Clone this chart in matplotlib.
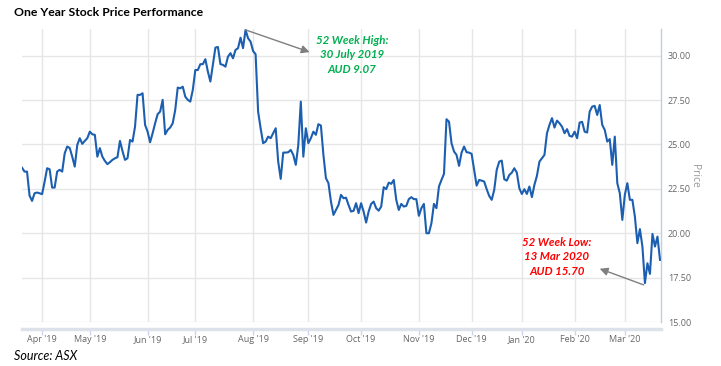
import numpy as np
import pandas as pd
import matplotlib
matplotlib.use("Agg")
from matplotlib import pyplot as plt

# daily closes, one list per month (trading days only)
mar19 = [23.69, 23.47, 23.47, 22.12, 21.82, 22.25, 22.29, 22.25]
apr19 = [22.20, 22.90, 23.66, 23.60, 22.57, 22.57, 23.47, 23.57, 23.47, 24.50,
         24.88, 24.80, 24.31, 23.75, 24.97, 25.35, 25.03, 25.20, 25.35]
may19 = [25.72, 25.57, 25.54, 24.31, 24.79, 24.31, 24.07, 23.89, 24.00, 24.13,
         24.22, 24.28, 25.20, 24.63, 24.13, 24.22, 25.25, 25.16, 26.00, 27.79,
         27.79, 27.88, 26.10]
jun19 = [25.72, 25.12, 25.63, 26.19, 26.70, 26.85, 27.51, 25.57, 25.82, 25.95,
         26.19, 26.94, 28.20, 28.16, 28.25, 27.69, 27.51, 27.41, 28.07]
jul19 = [29.19, 29.19, 29.52, 29.52, 29.80, 29.10, 28.54, 29.48, 30.45, 30.49,
         29.52, 29.48, 29.38, 29.94, 30.14, 29.85, 30.32, 30.42, 31.01, 30.42,
         31.45, 30.98, 30.79]
aug19 = [30.26, 30.08, 26.85, 25.91, 25.07, 25.16, 25.44, 25.35, 25.63, 25.91,
         24.03, 23.06, 24.54, 24.54, 24.56, 24.69, 24.41, 23.85, 24.97, 27.41,
         24.31, 25.91]
sep19 = [25.07, 25.35, 25.72, 25.54, 26.14, 26.06, 24.41, 23.10, 22.82, 21.78,
         21.03, 21.31, 21.59, 22.16, 21.97, 22.00, 21.59, 21.22, 21.26, 21.69,
         21.13]
oct19 = [21.69, 21.22, 20.60, 21.22, 21.65, 21.78, 21.41, 21.27, 21.50, 22.59,
         22.48, 22.85, 22.78, 23.00, 21.88, 21.31, 21.65, 21.50, 21.54, 21.92,
         22.03, 21.92, 21.92]
nov19 = [20.98, 21.41, 21.65, 20.00, 20.00, 20.56, 21.65, 21.41, 22.63, 23.00,
         23.34, 26.42, 26.28, 25.07, 24.60, 24.41, 23.79, 24.54, 24.88, 24.56,
         24.54]
dec19 = [24.47, 23.57, 22.68, 23.00, 22.96, 22.91, 22.48, 22.10, 21.88, 22.44,
         23.57, 24.03, 24.09, 23.04, 22.96, 23.28, 23.41, 23.66, 23.41, 22.53]
jan20 = [22.21, 22.48, 22.21, 22.63, 22.03, 22.72, 23.23, 24.03, 24.22, 24.41,
         25.63, 26.10, 26.48, 25.95, 26.34, 26.19, 26.00, 25.63, 25.86, 25.48,
         25.44]
feb20 = [25.72, 25.35, 26.23, 26.27, 25.72, 25.67, 26.85, 27.13, 27.17, 26.66,
         27.22, 26.10, 25.82, 25.16, 25.30, 23.85, 25.44, 22.82, 22.25, 20.75]
mar20 = [22.16, 22.82, 21.88, 21.88, 20.94, 19.44, 20.23, 19.25, 17.19, 18.31,
         17.71, 19.96, 19.25, 19.81, 18.50]

asx_holidays = ['2019-04-19', '2019-04-22', '2019-04-25', '2019-06-10',
                '2019-12-25', '2019-12-26', '2020-01-01', '2020-01-27']
y_ticks = [15.0, 17.5, 20.0, 22.5, 25.0, 27.5, 30.0]

high_text = "52 Week High:\n30 July 2019\nAUD 9.07"
low_text = "52 Week Low:\n13 Mar 2020\nAUD 15.70"

price = np.array(mar19 + apr19 + may19 + jun19 + jul19 + aug19 + sep19 +
                 oct19 + nov19 + dec19 + jan20 + feb20 + mar20)
dates = pd.bdate_range('2019-03-20', '2020-03-20', freq='C',
                       holidays=asx_holidays)[:len(price)]
pos = np.arange(len(price))

# month ticks at first trading day of each month
months = pd.Series(pos, index=dates).groupby(dates.to_period('M')).first()
months = months.iloc[1:]
month_labels = [p.strftime("%b '%y") for p in months.index]

W, H = 721, 366
fig = plt.figure(figsize=(W / 100, H / 100), dpi=100)
ax = fig.add_axes([22 / W, 1 - 322 / H, (661 - 22) / W, (322 - 29) / H])

ax.plot(pos, price, color='#1c5fb0', lw=1.5, zorder=3)

ax.set_xlim(0, len(price) - 0.6)
ax.set_ylim(15, 31.5)
ax.set_yticks(y_ticks)
ax.set_yticklabels(['%.2f' % v for v in y_ticks])
ax.set_xticks(months.values)
ax.set_xticklabels(month_labels)
ax.yaxis.tick_right()
ax.yaxis.set_label_position('right')
ax.grid(True, color='#e6e6e6', lw=1)
ax.set_axisbelow(True)

for s in ['left', 'top']:
    ax.spines[s].set_visible(False)
ax.spines['right'].set_color('#c0d0e0')
ax.spines['right'].set_linewidth(1)
ax.spines['bottom'].set_position(('outward', 5))
ax.spines['bottom'].set_color('#dde2ea')
ax.spines['bottom'].set_linewidth(2.5)

ax.tick_params(axis='y', length=0, pad=5, labelsize=6.5, labelcolor='#666666')
ax.tick_params(axis='x', length=4, width=1, color='#ccd6eb', pad=0.5,
               labelsize=6.5, labelcolor='#666666')
for t in ax.get_xticklabels() + ax.get_yticklabels():
    t.set_fontfamily('Open Sans')

ax.set_ylabel('Price', rotation=270, color='#999999', fontsize=7.5,
              family='Open Sans', labelpad=6)

# 52 week high / low annotations
hi = int(np.argmax(price))
lo = int(np.argmin(price))
ax.annotate('', xy=(114.5, 30.2), xytext=(pos[hi], price[hi]),
            arrowprops=dict(arrowstyle='-|>', color='#7f7f7f', lw=1,
                            mutation_scale=12, shrinkA=0, shrinkB=0))
ax.annotate('', xy=(230, 18.0), xytext=(pos[lo] - 0.5, price[lo] - 0.1),
            arrowprops=dict(arrowstyle='-|>', color='#7f7f7f', lw=1,
                            mutation_scale=12, shrinkA=0, shrinkB=0))

fig.text(352 / W, 1 - 55 / H, high_text, color='#00b050', fontsize=8.3,
         family='Lato', weight='bold', style='italic', ha='center',
         va='center', linespacing=1.4)
fig.text(557 / W, 1 - 257 / H, low_text, color='#ff0000', fontsize=8.3,
         family='Lato', weight='bold', style='italic', ha='center',
         va='center', linespacing=1.4)

fig.text(14 / W, 1 - 12 / H, 'One Year Stock Price Performance',
         fontsize=8.8, family='Lato', weight='bold', va='center', ha='left')
fig.text(14 / W, 1 - 356 / H, 'Source: ASX', fontsize=9, family='Lato',
         style='italic', va='center', ha='left')

fig.savefig('out.png', dpi=100)
